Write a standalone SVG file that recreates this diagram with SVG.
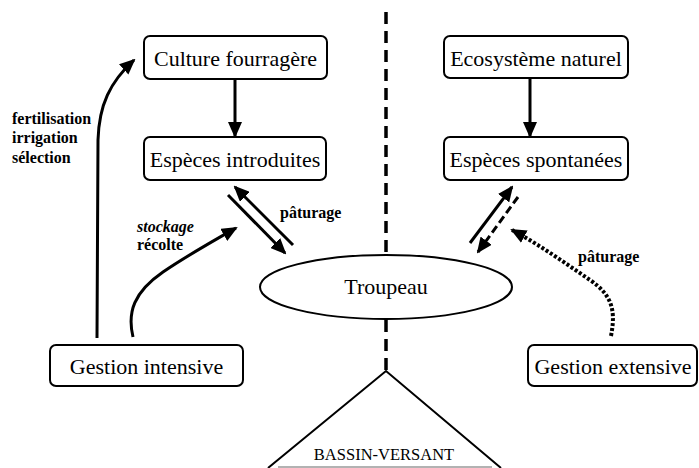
<svg xmlns="http://www.w3.org/2000/svg" width="699" height="468" viewBox="0 0 699 468">
<style>
.box{fill:#fff;stroke:#000;stroke-width:2}
.t{font-family:"Liberation Serif","Times New Roman",serif;font-size:22px;fill:#000;text-anchor:middle}
.lb{font-family:"Liberation Serif","Times New Roman",serif;font-size:16px;font-weight:bold;fill:#000}
.ar{fill:none;stroke:#000;stroke-width:3}
</style>
<defs>
<marker id="ah" markerUnits="userSpaceOnUse" markerWidth="16" markerHeight="14" refX="14" refY="7" orient="auto">
<path d="M0,0 L16,7 L0,14 z" fill="#000"/>
</marker>
</defs>
<rect width="699" height="468" fill="#fff"/>
<g id="connectors">
<line x1="386" y1="12" x2="386" y2="255" stroke="#000" stroke-width="3.5" stroke-dasharray="12 7"/>
<line x1="386" y1="320" x2="386" y2="371" stroke="#000" stroke-width="3.5" stroke-dasharray="12 7"/>
<line class="ar" x1="235" y1="79" x2="235" y2="136" marker-end="url(#ah)"/>
<line class="ar" x1="530" y1="78" x2="530" y2="136" marker-end="url(#ah)"/>
<path class="ar" d="M97,338 L98,140 C99,105 110,82 134,60" marker-end="url(#ah)"/>
<path class="ar" d="M133,337 C127,312 134,292 163,272 C188,255 213,241 236,228" marker-end="url(#ah)"/>
<line class="ar" x1="293" y1="245" x2="235" y2="187" marker-end="url(#ah)"/>
<line class="ar" x1="228" y1="195" x2="285" y2="253" marker-end="url(#ah)"/>
<line class="ar" x1="470" y1="243" x2="512" y2="187" marker-end="url(#ah)"/>
<line class="ar" x1="518" y1="197" x2="478" y2="252" stroke-dasharray="8 4" marker-end="url(#ah)"/>
<path d="M611,336 C616,310 612,295 590,280 C565,263 540,245 512,230" fill="none" stroke="#000" stroke-width="4" stroke-dasharray="3 2" marker-end="url(#ah)"/>
</g>
<g id="culture"><rect class="box" x="144" y="36" width="183" height="43" rx="6"/><text class="t" x="235.5" y="66">Culture fourragère</text></g>
<g id="especes-introduites"><rect class="box" x="144" y="137" width="182" height="43" rx="6"/><text class="t" x="235" y="167">Espèces introduites</text></g>
<g id="ecosysteme"><rect class="box" x="444" y="36" width="184" height="42" rx="6"/><text class="t" x="536" y="66">Ecosystème naturel</text></g>
<g id="especes-spontanees"><rect class="box" x="444" y="137" width="184" height="43" rx="6"/><text class="t" x="536" y="167">Espèces spontanées</text></g>
<g id="gestion-intensive"><rect class="box" x="50" y="345" width="193" height="41" rx="6"/><text class="t" x="146.5" y="374">Gestion intensive</text></g>
<g id="gestion-extensive"><rect class="box" x="528" y="345" width="169" height="41" rx="6"/><text class="t" x="613" y="374">Gestion extensive</text></g>
<g id="troupeau"><ellipse cx="386" cy="287" rx="126" ry="32" fill="#fff" stroke="#000" stroke-width="2"/><text class="t" x="386" y="294">Troupeau</text></g>
<g id="bassin-versant">
<polyline points="268,468 386,371 501,468" fill="none" stroke="#000" stroke-width="2"/>
<line x1="278" y1="467" x2="492" y2="467" stroke="#999" stroke-width="1.5"/>
<text x="384" y="460" font-family="'Liberation Serif','Times New Roman',serif" font-size="16.5" text-anchor="middle">BASSIN-VERSANT</text>
</g>
<g id="labels">
<text class="lb" x="12" y="124">fertilisation</text>
<text class="lb" x="12" y="143">irrigation</text>
<text class="lb" x="12" y="163">sélection</text>
<text class="lb" x="137" y="232" font-style="italic">stockage</text>
<text class="lb" x="137" y="250">récolte</text>
<text class="lb" x="280" y="218">pâturage</text>
<text class="lb" x="578" y="262">pâturage</text>
</g>
</svg>
